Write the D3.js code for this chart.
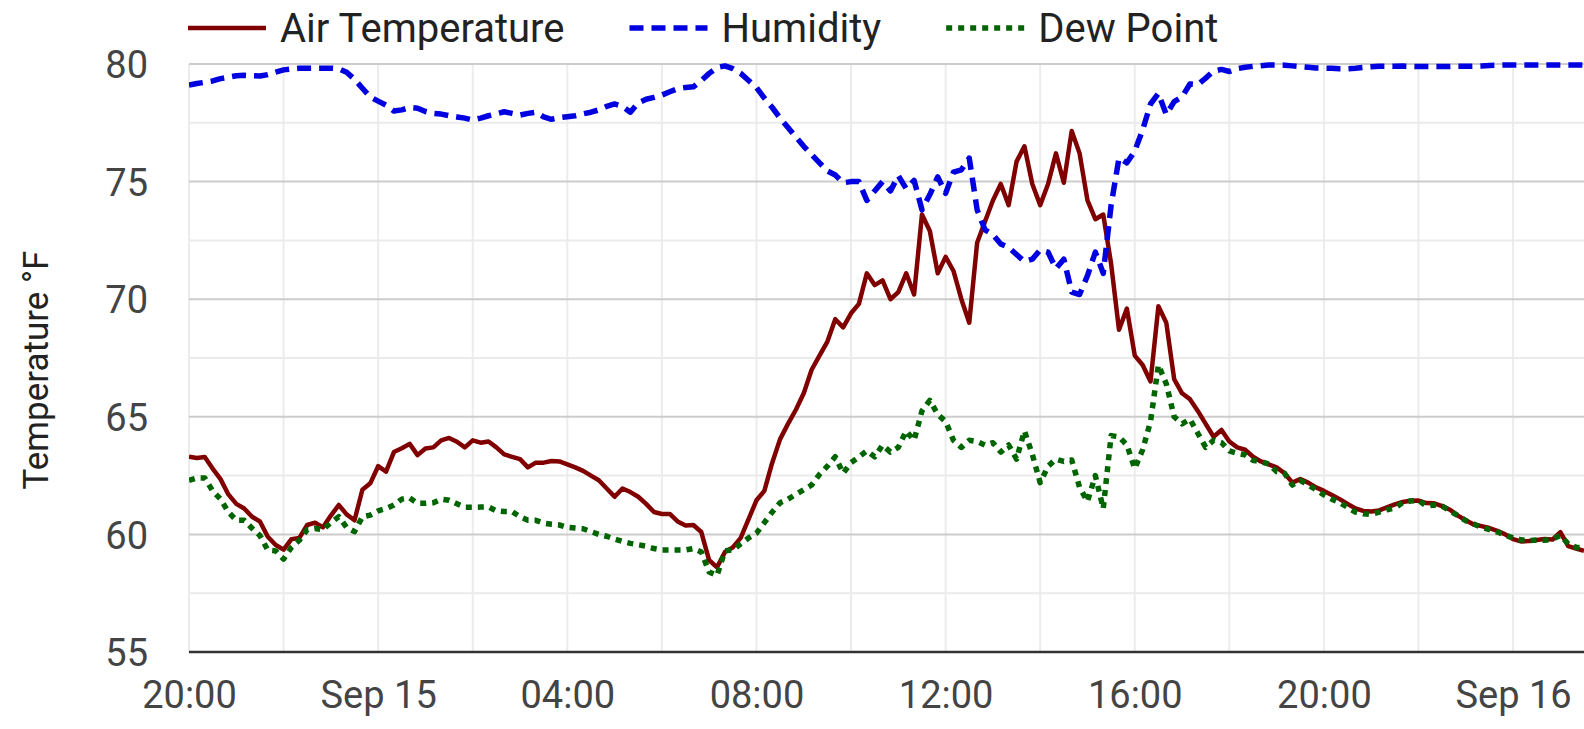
<!DOCTYPE html>
<html>
<head>
<meta charset="utf-8">
<script src="https://cdn.jsdelivr.net/npm/d3@7"></script>
<style>
  html, body { margin: 0; padding: 0; background: #fff; }
  svg { display: block; font-family: Roboto, "Noto Sans", sans-serif; }
</style>
</head>
<body>
<script>
// readings every 10 minutes starting Sep 14 20:00
var startTime = new Date(2023, 8, 14, 20, 0);
var stepMinutes = 10;

var airTemp = [
  63.3, 63.25, 63.29, 62.8, 62.35, 61.7, 61.3, 61.1, 60.75, 60.55, 59.9, 59.55,
  59.35, 59.8, 59.85, 60.4, 60.5, 60.3, 60.8, 61.25, 60.85, 60.6, 61.9, 62.17,
  62.9, 62.67, 63.5, 63.66, 63.85, 63.37, 63.65, 63.7, 64.0, 64.1, 63.94, 63.7,
  64.0, 63.9, 63.95, 63.7, 63.4, 63.3, 63.2, 62.85, 63.05, 63.05, 63.12, 63.1,
  62.98, 62.85, 62.7, 62.5, 62.3, 61.95, 61.6, 61.95, 61.8, 61.6, 61.3, 60.95,
  60.87, 60.87, 60.55, 60.38, 60.4, 60.1, 58.9, 58.6, 59.25, 59.45, 59.85, 60.65,
  61.45, 61.85, 63.05, 64.05, 64.7, 65.3, 66.0, 67.0, 67.6, 68.2, 69.15, 68.8,
  69.4, 69.8, 71.1, 70.6, 70.8, 70.0, 70.3, 71.1, 70.2, 73.6, 72.9, 71.1,
  71.8, 71.2, 70.0, 69.0, 72.4, 73.3, 74.2, 74.9, 74.0, 75.85, 76.5, 74.9,
  74.0, 74.9, 76.2, 74.95, 77.15, 76.2, 74.2, 73.4, 73.6, 71.5, 68.7, 69.6,
  67.6, 67.2, 66.5, 69.7, 69.0, 66.6, 66.0, 65.75, 65.25, 64.7, 64.15, 64.44,
  63.95, 63.7, 63.6, 63.3, 63.1, 62.98, 62.85, 62.6, 62.2, 62.35, 62.2, 62.0,
  61.85, 61.68, 61.5, 61.3, 61.1, 61.0, 60.97, 61.02, 61.15, 61.28, 61.38, 61.43,
  61.44, 61.33, 61.32, 61.2, 61.05, 60.8, 60.6, 60.42, 60.35, 60.27, 60.15, 60.0,
  59.8, 59.7, 59.72, 59.76, 59.8, 59.78, 60.1, 59.5, 59.4, 59.3
];

var humidity = [
  79.1, 79.17, 79.22, 79.28, 79.38, 79.44, 79.5, 79.52, 79.5, 79.49, 79.55, 79.65,
  79.75, 79.79, 79.82, 79.82, 79.82, 79.82, 79.82, 79.8, 79.65, 79.35, 78.97, 78.6,
  78.42, 78.25, 78.0, 78.05, 78.15, 78.12, 77.98, 77.9, 77.87, 77.8, 77.75, 77.7,
  77.62, 77.7, 77.8, 77.88, 77.97, 77.9, 77.83, 77.9, 77.95, 77.75, 77.65, 77.72,
  77.76, 77.8, 77.88, 77.95, 78.05, 78.2, 78.3, 78.2, 77.95, 78.35, 78.5, 78.58,
  78.68, 78.82, 78.95, 79.0, 79.03, 79.3, 79.6, 79.85, 79.92, 79.8, 79.6, 79.3,
  79.0, 78.55, 78.15, 77.7, 77.3, 76.9, 76.5, 76.15, 75.8, 75.45, 75.28, 74.95,
  75.0, 75.0, 74.2, 74.6, 75.0, 74.6, 75.25, 74.7, 75.05, 73.8, 74.45, 75.2,
  74.5, 75.4, 75.5, 76.0, 73.8, 72.95, 72.75, 72.35, 72.2, 71.9, 71.6, 71.7,
  72.1, 72.0, 71.3, 71.7, 70.3, 70.2, 71.0, 72.0, 71.1, 74.0, 76.0, 75.8,
  76.3, 77.2, 78.3, 78.75, 77.85, 78.4, 78.6, 79.15, 79.12, 79.4, 79.7, 79.77,
  79.68, 79.8, 79.86, 79.9, 79.93, 79.96, 79.96, 79.95, 79.92, 79.89, 79.86, 79.83,
  79.82, 79.82, 79.8, 79.8, 79.82, 79.85, 79.88, 79.9, 79.9, 79.9, 79.91, 79.9,
  79.89, 79.89, 79.89, 79.89, 79.89, 79.9, 79.9, 79.91, 79.92, 79.94, 79.95, 79.96,
  79.96, 79.96, 79.96, 79.96, 79.96, 79.96, 79.96, 79.96, 79.96, 79.96
];

var dewPoint = [
  62.3, 62.4, 62.4, 61.85, 61.5, 60.95, 60.6, 60.6, 60.26, 59.95, 59.33, 59.3,
  58.95, 59.45, 59.75, 60.2, 60.25, 60.2, 60.5, 60.75, 60.3, 60.12, 60.75, 60.82,
  61.0, 61.1, 61.25, 61.5, 61.55, 61.32, 61.32, 61.35, 61.5, 61.45, 61.3, 61.15,
  61.15, 61.16, 61.17, 61.0, 60.97, 60.97, 60.75, 60.6, 60.6, 60.48, 60.43, 60.4,
  60.3, 60.27, 60.24, 60.12, 60.0, 59.92, 59.8, 59.7, 59.62, 59.56, 59.5, 59.4,
  59.34, 59.34, 59.34, 59.34, 59.4, 59.25, 58.4, 58.25, 59.3, 59.34, 59.6, 59.85,
  60.05, 60.5, 60.95, 61.35, 61.5, 61.7, 61.9, 62.1, 62.55, 62.9, 63.3, 62.6,
  63.05, 63.3, 63.55, 63.3, 63.8, 63.5, 63.7, 64.4, 64.0, 65.25, 65.7, 65.1,
  64.8, 64.0, 63.7, 64.0, 63.95, 63.8, 63.9, 63.5, 63.8, 63.2, 64.4, 63.4,
  62.2, 62.9, 63.2, 63.1, 63.16, 62.0, 61.4, 62.5, 61.1, 64.2, 64.15, 63.8,
  62.8, 63.6, 64.8, 67.2, 66.4, 65.0, 64.7, 64.9, 64.3, 63.7, 64.0, 63.9,
  63.55, 63.45, 63.38, 63.15, 63.09, 63.0, 62.67, 62.6, 62.1, 62.3, 62.1, 61.9,
  61.68, 61.5, 61.35, 61.15, 60.95, 60.88, 60.85, 60.95, 61.05, 61.12, 61.35, 61.42,
  61.45, 61.2, 61.25, 61.2, 61.0, 60.8, 60.58, 60.44, 60.3, 60.2, 60.1, 59.97,
  59.85, 59.77, 59.74, 59.76, 59.75, 59.8, 59.95, 59.6, 59.45, 59.4
];

var seriesNames = ["Air Temperature", "Humidity", "Dew Point"];
var seriesColors = ["#800000", "#0000e0", "#006400"];
var seriesDash = [null, "14,8", "6,6"];
var seriesWidth = [4.5, 5.5, 5.5];
var yTicks = [55, 60, 65, 70, 75, 80];
var yTitle = "Temperature \u00b0F";

var W = 1584, H = 729;
var margin = {left: 189, right: 0, top: 64, bottom: 77};

var svg = d3.select("body").append("svg")
  .attr("width", W)
  .attr("height", H);

var times = airTemp.map(function (d, i) {
  return new Date(startTime.getTime() + i * stepMinutes * 60000);
});

var x = d3.scaleTime()
  .domain([startTime, times[times.length - 1]])
  .range([margin.left, W - margin.right]);
var y = d3.scaleLinear()
  .domain([55, 80])
  .range([H - margin.bottom, margin.top]);

// grid, vertical every 2 hours
var gridV = x.ticks(d3.timeHour.every(2));
svg.append("g").selectAll("line")
  .data(gridV)
  .enter().append("line")
  .attr("x1", function (d) { return x(d); })
  .attr("x2", function (d) { return x(d); })
  .attr("y1", y(80))
  .attr("y2", y(55))
  .attr("stroke", "#ececec")
  .attr("stroke-width", 2);

// horizontal: minor at 2.5, major at 5
var gridH = d3.range(57.5, 80.1, 2.5);
svg.append("g").selectAll("line")
  .data(gridH)
  .enter().append("line")
  .attr("x1", margin.left)
  .attr("x2", W - margin.right)
  .attr("y1", function (d) { return y(d); })
  .attr("y2", function (d) { return y(d); })
  .attr("stroke", function (d) { return d % 5 === 0 ? "#cccccc" : "#ebebeb"; })
  .attr("stroke-width", 2);

// x axis
var xAxis = d3.axisBottom(x)
  .ticks(d3.timeHour.every(4))
  .tickSize(0)
  .tickPadding(0)
  .tickFormat(function (d) {
    return d.getHours() === 0 ? d3.timeFormat("%b %d")(d).replace(/ 0/, " ") : d3.timeFormat("%H:%M")(d);
  });
var gx = svg.append("g")
  .attr("transform", "translate(0," + y(55) + ")")
  .call(xAxis);
gx.select(".domain").remove();
gx.selectAll("text")
  .attr("y", 56)
  .attr("dy", null)
  .attr("fill", "#444")
  .style("font-size", "38px")
  .style("font-family", "Roboto");

// y axis
var yAxis = d3.axisLeft(y)
  .tickValues(yTicks)
  .tickSize(0)
  .tickPadding(0)
  .tickFormat(d3.format("d"));
var gy = svg.append("g")
  .attr("transform", "translate(148,0)")
  .call(yAxis);
gy.select(".domain").remove();
gy.selectAll("text")
  .attr("x", 0)
  .attr("dy", "0.36em")
  .attr("fill", "#444")
  .style("font-size", "38px")
  .style("font-family", "Roboto");

// baseline
svg.append("line")
  .attr("x1", margin.left)
  .attr("x2", W - margin.right)
  .attr("y1", y(55))
  .attr("y2", y(55))
  .attr("stroke", "#333")
  .attr("stroke-width", 2.5);

svg.append("text")
  .attr("transform", "translate(48,370) rotate(-90)")
  .attr("text-anchor", "middle")
  .attr("fill", "#222")
  .style("font-size", "35px")
  .text(yTitle);

// the lines
svg.append("clipPath").attr("id", "plotclip")
  .append("rect")
  .attr("x", margin.left)
  .attr("y", margin.top - 10)
  .attr("width", W - margin.left - margin.right)
  .attr("height", y(55) - margin.top + 10);

var line = d3.line()
  .x(function (d, i) { return x(times[i]); })
  .y(function (d) { return y(d); });

var allSeries = [airTemp, humidity, dewPoint];
var plot = svg.append("g").attr("clip-path", "url(#plotclip)");
allSeries.forEach(function (s, i) {
  plot.append("path")
    .datum(s)
    .attr("d", line)
    .attr("fill", "none")
    .attr("stroke", seriesColors[i])
    .attr("stroke-width", seriesWidth[i])
    .attr("stroke-linejoin", "round")
    .attr("stroke-dasharray", seriesDash[i]);
});

// legend along the top
var lx = 188;
var legend = svg.append("g");
seriesNames.forEach(function (name, i) {
  legend.append("line")
    .attr("x1", lx)
    .attr("x2", lx + 78)
    .attr("y1", 28)
    .attr("y2", 28)
    .attr("stroke", seriesColors[i])
    .attr("stroke-width", seriesWidth[i])
    .attr("stroke-dasharray", seriesDash[i]);
  var t = legend.append("text")
    .attr("x", lx + 92)
    .attr("y", 28)
    .attr("dy", "0.36em")
    .attr("fill", "#222")
    .style("font-size", "40px")
    .text(name);
  lx = lx + 92 + t.node().getComputedTextLength() + 65;
});
</script>
</body>
</html>
